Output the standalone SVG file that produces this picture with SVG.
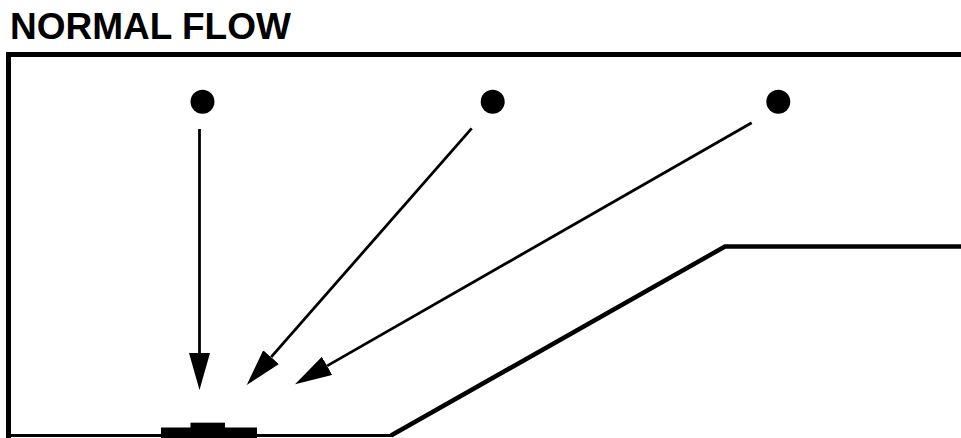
<svg xmlns="http://www.w3.org/2000/svg" width="961" height="438" viewBox="0 0 961 438">
  <style>
    .title { font-family: "Liberation Sans", Arial, sans-serif; font-weight: bold; font-size: 37px; fill: #000; }
    .wall { fill: none; stroke: #000; stroke-linejoin: miter; }
    .arrow { stroke: #000; stroke-width: 2.8; fill: none; }
    .dot { fill: #000; }
  </style>
  <defs>
    <marker id="ah" viewBox="0 0 37 21" markerWidth="37" markerHeight="21" refX="0" refY="10.5" orient="auto" markerUnits="userSpaceOnUse">
      <path d="M0,0 L37,10.5 L0,21 Z" fill="#000"/>
    </marker>
  </defs>
  <rect width="961" height="438" fill="#fff"/>
  <text class="title" x="10" y="39">NORMAL FLOW</text>

  <g id="duct">
    <polyline class="wall" stroke-width="5" points="8.5,438 8.5,54.5 961,54.5"/>
    <line class="wall" stroke-width="3" x1="7" y1="435.5" x2="392" y2="435.5"/>
    <polyline class="wall" stroke-width="4.5" points="391,435.5 725,246.5 961,246.5"/>
  </g>

  <g id="sensor">
    <rect x="161" y="427.5" width="96" height="10.5" fill="#000"/>
    <rect x="190.5" y="422.7" width="34.5" height="6" fill="#000"/>
  </g>

  <g id="source1"><circle class="dot" cx="202.5" cy="101.7" r="12"/></g>
  <g id="source2"><circle class="dot" cx="492.7" cy="101.7" r="12"/></g>
  <g id="source3"><circle class="dot" cx="778.3" cy="101.7" r="12"/></g>

  <g id="connectors">
    <line class="arrow" x1="199.5" y1="129" x2="199.5" y2="353" marker-end="url(#ah)"/>
    <line class="arrow" x1="471.7" y1="128.3" x2="271.1" y2="357.2" marker-end="url(#ah)"/>
    <line class="arrow" x1="751.7" y1="122.7" x2="327.1" y2="365.9" marker-end="url(#ah)"/>
  </g>
</svg>
